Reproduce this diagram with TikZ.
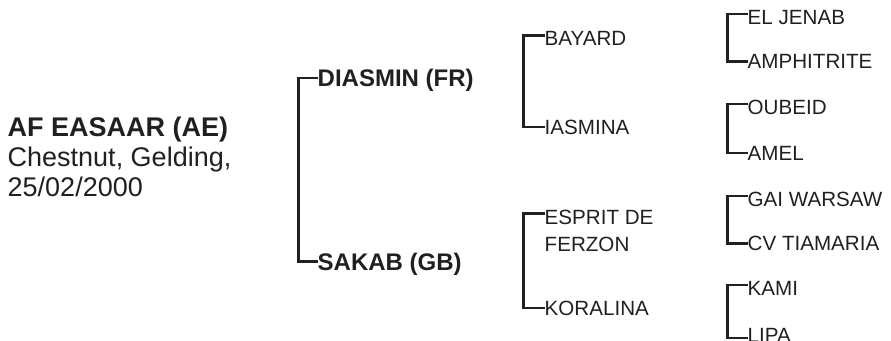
\documentclass[tikz,border=0pt]{standalone}
\usepackage{fontspec}
\setmainfont{Liberation Sans}
\definecolor{ink}{HTML}{231F20}
\begin{document}
\begin{tikzpicture}[x=1pt,y=-1pt,
 lbl/.style={anchor=west,inner sep=0pt,text height=14.7pt,text depth=0pt,text=ink,font=\fontsize{20.6}{28}\selectfont},
 sire/.style={anchor=west,inner sep=0pt,text height=17.2pt,text depth=0pt,text=ink,font=\bfseries\fontsize{24}{28}\selectfont},
 link/.style={draw=ink,line width=2.6pt,line join=miter}]
\useasboundingbox (0,0) rectangle (891,340);
\clip (0,0) rectangle (891,340);
% subject
\node[anchor=north west,inner sep=0pt,align=left,text=ink,font=\fontsize{27}{30}\selectfont] (horse) at (7.5,117) {\textbf{AF EASAAR (AE)}\\Chestnut, Gelding,\\25/02/2000};
% parents
\node[sire] (s) at (317.5,78) {DIASMIN (FR)};
\node[sire] (d) at (317.5,261.5) {SAKAB (GB)};
% grandparents
\node[lbl] (ss) at (544.5,38.5) {BAYARD};
\node[lbl] (sd) at (544.5,127) {IASMINA};
\node[anchor=north west,inner sep=0pt,align=left,text=ink,font=\fontsize{20.6}{27.5}\selectfont] (ds) at (544.5,209.5) {ESPRIT DE\\FERZON};
\node[lbl] (dd) at (544.5,308) {KORALINA};
% great-grandparents
\node[lbl] (sss) at (747.5,17) {EL JENAB};
\node[lbl] (ssd) at (747.5,61.5) {AMPHITRITE};
\node[lbl] (sds) at (747.5,107) {OUBEID};
\node[lbl] (sdd) at (747.5,153) {AMEL};
\node[lbl] (dss) at (747.5,199) {GAI WARSAW};
\node[lbl] (dsd) at (747.5,243.5) {CV TIAMARIA};
\node[lbl] (dds) at (747.5,288) {KAMI};
\node[lbl] (ddd) at (747.5,335.5) {LIPA};
% connectors
\draw[link] (s.west) -- ++(-19,0) |- (d.west);
\draw[link] ([yshift=3pt]ss.west) -- ++(-21,0) |- (sd.west);
\draw[link] ([yshift=-4pt]ds.north west) -- ++(-21,0) |- (dd.west);
\draw[link] ([yshift=3pt]sss.west) -- ++(-20,0) |- (ssd.west);
\draw[link] ([yshift=3pt]sds.west) -- ++(-20,0) |- (sdd.west);
\draw[link] ([yshift=3pt]dss.west) -- ++(-20,0) |- (dsd.west);
\draw[link] ([yshift=3pt]dds.west) -- ++(-20,0) |- ([yshift=-2.5pt]ddd.west);
\end{tikzpicture}
\end{document}
